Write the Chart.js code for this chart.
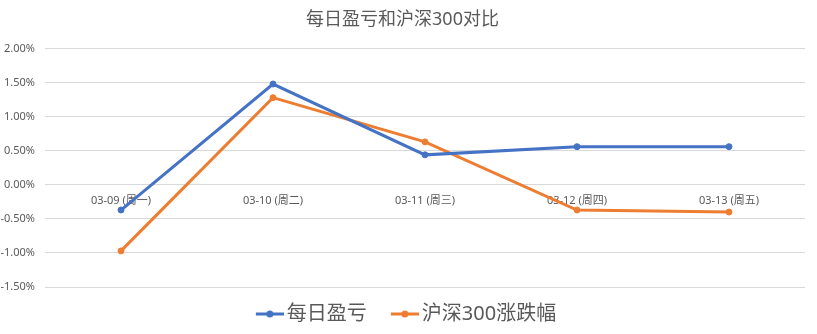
<!DOCTYPE html>
<html>
<head>
<meta charset="utf-8">
<script src="https://cdn.jsdelivr.net/npm/chart.js@4.4.1/dist/chart.umd.min.js"></script>
<style>
    html, body { margin: 0; padding: 0; background: #fff; }
    #wrap { width: 817px; height: 334px; }
</style>
</head>
<body>
<div id="wrap"><canvas id="pnlChart"></canvas></div>
<script>
const days = ['03-09 (周一)', '03-10 (周二)', '03-11 (周三)', '03-12 (周四)', '03-13 (周五)'];
const dailyPnl = [-0.37, 1.48, 0.44, 0.56, 0.56];
const hs300Change = [-0.97, 1.28, 0.63, -0.37, -0.40];
const yTicks = [2.0, 1.5, 1.0, 0.5, 0.0, -0.5, -1.0, -1.5];

const grey = '#595959';
const blue = '#4472C4';
const orange = '#ED7D31';
const fontStack = '"Noto Sans", "Noto Sans CJK SC", sans-serif';

// legend marker: short line with a dot in the middle
function lineMarker(color) {
    const c = document.createElement('canvas');
    c.width = 42;
    c.height = 10;
    const g = c.getContext('2d');
    g.strokeStyle = color;
    g.lineWidth = 3;
    g.beginPath();
    g.moveTo(14, 5);
    g.lineTo(42, 5);
    g.stroke();
    g.fillStyle = color;
    g.beginPath();
    g.arc(28, 5, 3.5, 0, Math.PI * 2);
    g.fill();
    return c;
}
const markers = [lineMarker(blue), lineMarker(orange)];

document.addEventListener('DOMContentLoaded', function() {
    const ctx = document.getElementById('pnlChart').getContext('2d');
    new Chart(ctx, {
        type: 'line',
        data: {
            labels: days,
            datasets: [{
                label: '每日盈亏',
                data: dailyPnl,
                borderColor: blue,
                backgroundColor: blue,
                borderWidth: 3,
                pointRadius: 3,
                pointBorderWidth: 1,
                pointHoverRadius: 3,
                tension: 0
            }, {
                label: '沪深300涨跌幅',
                data: hs300Change,
                borderColor: orange,
                backgroundColor: orange,
                borderWidth: 3,
                pointRadius: 3,
                pointBorderWidth: 1,
                pointHoverRadius: 3,
                tension: 0
            }]
        },
        options: {
            responsive: true,
            maintainAspectRatio: false,
            animation: false,
            layout: {
                padding: { left: 0, right: 12, top: 0, bottom: 0 }
            },
            plugins: {
                title: {
                    display: true,
                    text: '每日盈亏和沪深300对比',
                    color: grey,
                    font: { family: fontStack, size: 18, weight: 'normal', lineHeight: 1.2 },
                    padding: { top: 9, bottom: 18 }
                },
                legend: {
                    display: true,
                    position: 'bottom',
                    labels: {
                        color: grey,
                        font: { family: fontStack, size: 20 },
                        usePointStyle: true,
                        pointStyleWidth: 28,
                        padding: 17,
                        generateLabels: function(chart) {
                            const items = Chart.defaults.plugins.legend.labels.generateLabels(chart);
                            items.forEach((item, i) => { item.pointStyle = markers[i]; });
                            return items;
                        }
                    }
                },
                tooltip: { enabled: false }
            },
            scales: {
                x: {
                    position: { y: 0 },
                    offset: true,
                    grid: { display: false },
                    border: { display: false },
                    ticks: {
                        color: grey,
                        font: { family: fontStack, size: 11 },
                        maxRotation: 0,
                        padding: 1
                    }
                },
                y: {
                    min: -1.5,
                    max: 2.0,
                    afterBuildTicks: function(scale) {
                        scale.ticks = yTicks.map(v => ({ value: v }));
                    },
                    afterFit: function(scale) {
                        scale.width = 45;
                    },
                    grid: {
                        color: '#d9d9d9',
                        lineWidth: 1,
                        drawTicks: false
                    },
                    border: { display: false },
                    ticks: {
                        color: grey,
                        font: { family: fontStack, size: 11 },
                        padding: 10,
                        callback: v => v.toFixed(2) + '%'
                    }
                }
            }
        }
    });
});
</script>
</body>
</html>
